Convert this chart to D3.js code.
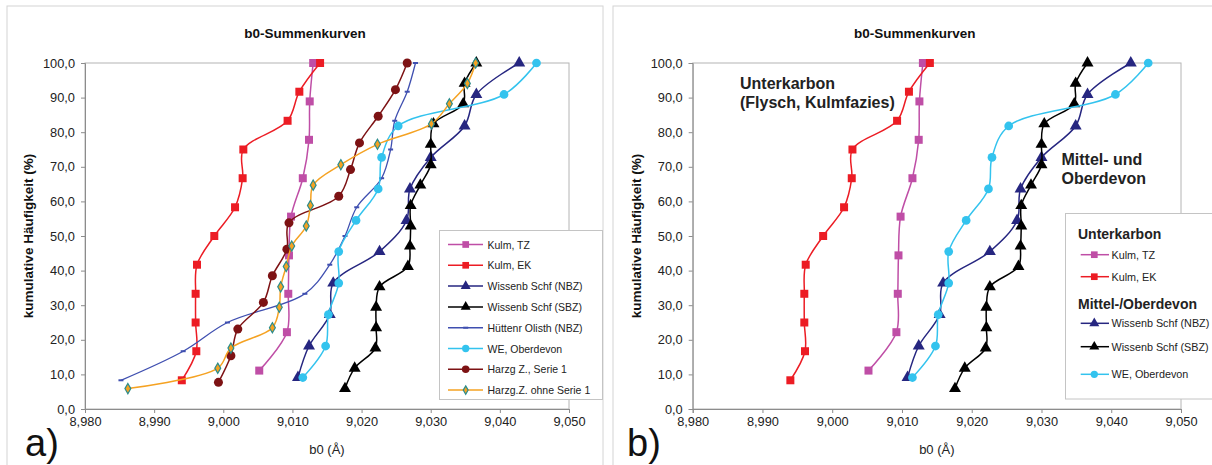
<!DOCTYPE html>
<html>
<head>
<meta charset="utf-8">
<script src="https://cdn.jsdelivr.net/npm/d3@7"></script>
<style>
  body { margin: 0; background: #fff; }
  svg { font-family: "Liberation Sans", Arial, sans-serif; display: block; }
</style>
</head>
<body>
<svg id="chart" width="1212" height="465"></svg>
<script>
// values: b0 (Å) and cumulative frequency (%)
const kulmTZ_b0 = [9.0052, 9.0092, 9.0094, 9.0095, 9.0098, 9.0115, 9.0124, 9.0125, 9.0130];
const kulmTZ_pct = [11.1, 22.2, 33.3, 44.4, 55.6, 66.7, 77.8, 88.9, 100];

const kulmEK_b0 = [8.9940, 8.9961, 8.9960, 8.9960, 8.9962, 8.9987, 9.0017, 9.0028, 9.0029, 9.0093, 9.0110, 9.0140];
const kulmEK_pct = [8.3, 16.7, 25.0, 33.3, 41.7, 50.0, 58.3, 66.7, 75.0, 83.3, 91.7, 100];

const nbz_b0 = [9.0108, 9.0124, 9.0154, 9.0159, 9.0226, 9.0265, 9.0270, 9.0300, 9.0349, 9.0366, 9.0428];
const nbz_pct = [9.1, 18.2, 27.3, 36.4, 45.5, 54.5, 63.6, 72.7, 81.8, 90.9, 100];

const sbz_b0 = [9.0176, 9.0190, 9.0220, 9.0221, 9.0221, 9.0226, 9.0267, 9.0270, 9.0271, 9.0271,
  9.0285, 9.0300, 9.0300, 9.0304, 9.0347, 9.0349, 9.0366];
const sbz_pct = [5.9, 11.8, 17.6, 23.5, 29.4, 35.3, 41.2, 47.1, 52.9, 58.8, 64.7, 70.6, 76.5, 82.4, 88.2, 94.1, 100];

const huett_b0 = [8.9852, 8.9942, 9.0006, 9.0118, 9.0154, 9.0176, 9.0193, 9.0229, 9.0242, 9.0248, 9.0266, 9.0278];
const huett_pct = [8.3, 16.7, 25.0, 33.3, 41.7, 50.0, 58.3, 66.7, 75.0, 83.3, 91.7, 100];

const we_b0 = [9.0115, 9.0148, 9.0152, 9.0167, 9.0167, 9.0192, 9.0224, 9.0229, 9.0253, 9.0406, 9.0453];
const we_pct = [9.1, 18.2, 27.3, 36.4, 45.5, 54.5, 63.6, 72.7, 81.8, 90.9, 100];

const harz1_b0 = [8.9993, 9.0011, 9.0021, 9.0058, 9.0071, 9.0092, 9.0095, 9.0167, 9.0184, 9.0197, 9.0224, 9.0249, 9.0266];
const harz1_pct = [7.7, 15.4, 23.1, 30.8, 38.5, 46.2, 53.8, 61.5, 69.2, 76.9, 84.6, 92.3, 100];

const harz2_b0 = [8.9862, 8.9992, 9.0011, 9.0071, 9.0081, 9.0083, 9.0091, 9.0099, 9.0120, 9.0126,
  9.0130, 9.0170, 9.0223, 9.0301, 9.0327, 9.0353, 9.0365];
const harz2_pct = [5.9, 11.8, 17.6, 23.5, 29.4, 35.3, 41.2, 47.1, 52.9, 58.8, 64.7, 70.6, 76.5, 82.4, 88.2, 94.1, 100];

const xTicks = [8.98, 8.99, 9.00, 9.01, 9.02, 9.03, 9.04, 9.05];
const yTicks = [0, 10, 20, 30, 40, 50, 60, 70, 80, 90, 100];

const series = {
  kulmTZ: { name: 'Kulm, TZ', x: kulmTZ_b0, y: kulmTZ_pct, color: '#bf4ea6', symbol: d3.symbolSquare, size: 64 },
  kulmEK: { name: 'Kulm, EK', x: kulmEK_b0, y: kulmEK_pct, color: '#ec1c24', symbol: d3.symbolSquare, size: 64 },
  nbz: { name: 'Wissenb Schf (NBZ)', x: nbz_b0, y: nbz_pct, color: '#262680', symbol: d3.symbolTriangle, size: 62 },
  sbz: { name: 'Wissenb Schf (SBZ)', x: sbz_b0, y: sbz_pct, color: '#000000', symbol: d3.symbolTriangle, size: 62 },
  huett: { name: 'Hüttenr Olisth (NBZ)', x: huett_b0, y: huett_pct, color: '#3f4fb0', symbol: 'dash', size: 0, width: 1.3 },
  we: { name: 'WE, Oberdevon', x: we_b0, y: we_pct, color: '#33c3ee', symbol: d3.symbolCircle, size: 60 },
  harz1: { name: 'Harzg Z., Serie 1', x: harz1_b0, y: harz1_pct, color: '#7d1214', symbol: d3.symbolCircle, size: 64 },
  harz2: { name: 'Harzg.Z. ohne Serie 1', x: harz2_b0, y: harz2_pct, color: '#f5a222', symbol: d3.symbolDiamond, size: 30, stroke: '#2b8c8c' }
};

const locale = d3.formatLocale({ decimal: ',', thousands: '.', grouping: [3], currency: ['', ''] });
const fmtX = locale.format('.3f');
const fmtY = locale.format('.1f');

const svg = d3.select('#chart');

function drawMarker(g, s, x, y) {
  if (s.symbol === 'dash') {
    g.append('rect').attr('x', x - 2.5).attr('y', y - 1).attr('width', 5).attr('height', 2).attr('fill', s.color);
    return;
  }
  g.append('path')
    .attr('d', d3.symbol(s.symbol, s.size)())
    .attr('transform', `translate(${x},${y})`)
    .attr('fill', s.color)
    .attr('stroke', s.stroke || 'none')
    .attr('stroke-width', s.stroke ? 1.2 : 0);
}

function drawPanel(opts) {
  const g = svg.append('g');

  // panel frame
  g.append('rect')
    .attr('x', opts.frame[0]).attr('y', 6)
    .attr('width', opts.frame[1] - opts.frame[0]).attr('height', 480)
    .attr('fill', 'none').attr('stroke', '#d4d4d4');

  const x = d3.scaleLinear().domain([8.98, 9.05]).range([opts.left, opts.right]);
  const y = d3.scaleLinear().domain([0, 100]).range([409, 63]);

  // plot area border
  g.append('rect')
    .attr('x', opts.left).attr('y', 63)
    .attr('width', opts.right - opts.left).attr('height', 409 - 63)
    .attr('fill', 'none').attr('stroke', '#b4b4b4');

  const xAxis = g.append('g').attr('transform', 'translate(0,409)')
    .call(d3.axisBottom(x).tickValues(xTicks).tickFormat(fmtX).tickSize(4).tickPadding(4));
  const yAxis = g.append('g').attr('transform', `translate(${opts.left},0)`)
    .call(d3.axisLeft(y).tickValues(yTicks).tickFormat(fmtY).tickSize(4).tickPadding(6));
  [xAxis, yAxis].forEach(a => {
    a.select('.domain').attr('stroke', '#8c8c8c');
    a.selectAll('.tick line').attr('stroke', '#8c8c8c');
    a.selectAll('.tick text').attr('fill', '#222').style('font-size', '12.8px');
  });

  g.append('text')
    .attr('x', (opts.left + opts.right) / 2 - 22).attr('y', 38)
    .attr('text-anchor', 'middle').attr('font-weight', 'bold').style('font-size', '13.5px')
    .attr('fill', '#111').text('b0-Summenkurven');

  g.append('text')
    .attr('transform', `translate(${opts.left - 52},236) rotate(-90)`)
    .attr('text-anchor', 'middle').attr('font-weight', 'bold').style('font-size', '13.5px')
    .attr('fill', '#111').text('kumulative Häufigkeit (%)');

  g.append('text')
    .attr('x', (opts.left + opts.right) / 2).attr('y', 454)
    .attr('text-anchor', 'middle').style('font-size', '13px')
    .attr('fill', '#222').text('b0 (Å)');

  g.append('text')
    .attr('x', opts.frame[0] + opts.labelDx).attr('y', 456)
    .style('font-size', '38px').attr('fill', '#111').text(opts.label);

  const line = d3.line()
    .x(d => x(d[0])).y(d => y(d[1]))
    .curve(d3.curveCatmullRom.alpha(0.5));

  opts.keys.forEach(k => {
    const s = series[k];
    const pts = s.x.map((v, i) => [v, s.y[i]]);
    g.append('path')
      .attr('d', line(pts))
      .attr('fill', 'none').attr('stroke', s.color).attr('stroke-width', s.width || 1.5);
    const mg = g.append('g');
    pts.forEach(p => drawMarker(mg, s, x(p[0]), y(p[1])));
  });

  return g;
}

// a) all series
const ga = drawPanel({
  frame: [7, 603], left: 85, right: 569, label: 'a)', labelDx: 18,
  keys: ['kulmTZ', 'kulmEK', 'nbz', 'sbz', 'huett', 'we', 'harz1', 'harz2']
});

const legA = ga.append('g');
legA.append('rect').attr('x', 439.5).attr('y', 230.5).attr('width', 163).attr('height', 169)
  .attr('fill', '#fff').attr('stroke', '#c4c4c4');
['kulmTZ', 'kulmEK', 'nbz', 'sbz', 'huett', 'we', 'harz1', 'harz2'].forEach((k, i) => {
  const s = series[k];
  const yy = 244.5 + i * 20.8;
  legA.append('line').attr('x1', 448).attr('x2', 483).attr('y1', yy).attr('y2', yy)
    .attr('stroke', s.color).attr('stroke-width', 1.5);
  drawMarker(legA, Object.assign({}, s, { size: s.size * 0.7 }), 465.7, yy);
  legA.append('text').attr('x', 487.5).attr('y', yy + 4).style('font-size', '10.5px')
    .attr('fill', '#222').text(s.name);
});

// b) selected series
const gb = drawPanel({
  frame: [613, 1240], left: 692.7, right: 1181, label: 'b)', labelDx: 14,
  keys: ['kulmTZ', 'kulmEK', 'nbz', 'sbz', 'we']
});

gb.append('text').attr('x', 740).attr('y', 89).attr('font-weight', 'bold')
  .style('font-size', '16px').attr('fill', '#222').text('Unterkarbon');
gb.append('text').attr('x', 740).attr('y', 107.5).attr('font-weight', 'bold')
  .style('font-size', '16px').attr('fill', '#222').text('(Flysch, Kulmfazies)');
gb.append('text').attr('x', 1061.5).attr('y', 165).attr('font-weight', 'bold')
  .style('font-size', '16px').attr('fill', '#222').text('Mittel- und');
gb.append('text').attr('x', 1061.5).attr('y', 184).attr('font-weight', 'bold')
  .style('font-size', '16px').attr('fill', '#222').text('Oberdevon');

const legB = gb.append('g');
legB.append('rect').attr('x', 1065.5).attr('y', 213.5).attr('width', 160).attr('height', 185.5)
  .attr('fill', '#fff').attr('stroke', '#c4c4c4');
const legBItems = [
  { head: 'Unterkarbon', y: 239 },
  { key: 'kulmTZ', y: 254.7 },
  { key: 'kulmEK', y: 276.7 },
  { head: 'Mittel-/Oberdevon', y: 308.5 },
  { key: 'nbz', y: 323.3 },
  { key: 'sbz', y: 346.7 },
  { key: 'we', y: 374.3 }
];
legBItems.forEach(it => {
  if (it.head) {
    legB.append('text').attr('x', 1078).attr('y', it.y).attr('font-weight', 'bold')
      .style('font-size', '14px').attr('fill', '#222').text(it.head);
    return;
  }
  const s = series[it.key];
  legB.append('line').attr('x1', 1080.7).attr('x2', 1109).attr('y1', it.y).attr('y2', it.y)
    .attr('stroke', s.color).attr('stroke-width', 1.5);
  drawMarker(legB, Object.assign({}, s, { size: s.size * 0.7 }), 1094.3, it.y);
  legB.append('text').attr('x', 1111.5).attr('y', it.y + 4).style('font-size', '10.8px')
    .attr('fill', '#222').text(s.name);
});
</script>
</body>
</html>
